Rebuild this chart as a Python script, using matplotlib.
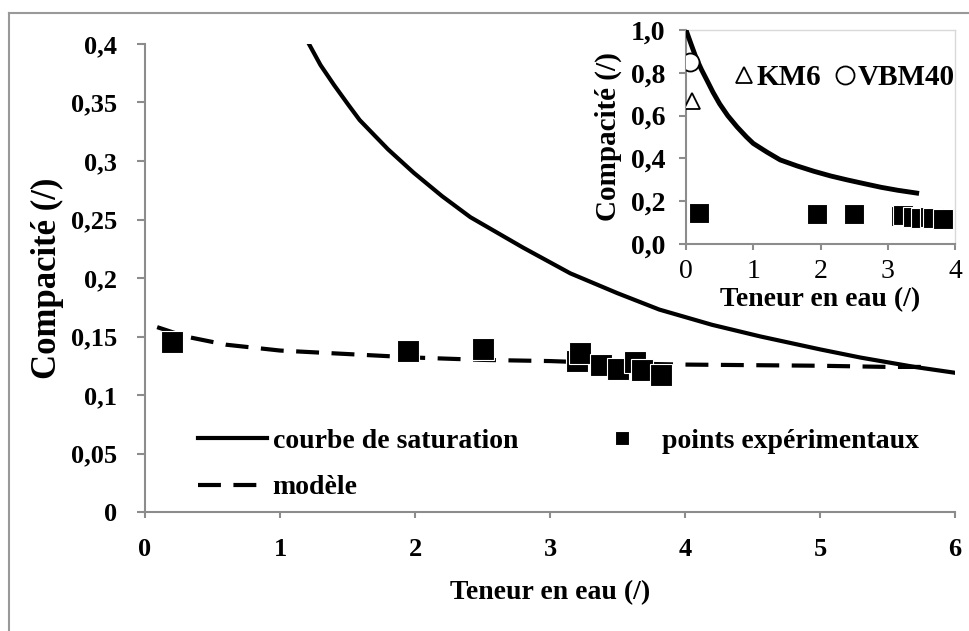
import numpy as np
import matplotlib
matplotlib.use("Agg")
import matplotlib.pyplot as plt
from matplotlib.lines import Line2D
from matplotlib.ticker import FuncFormatter

plt.rcParams['font.family'] = ['Liberation Serif', 'DejaVu Serif']

# experimental points (teneur en eau, compacite)
w_exp = [0.2, 1.95, 2.5, 3.2, 3.22, 3.38, 3.5, 3.63, 3.68, 3.82]
c_exp = [0.145, 0.138, 0.139, 0.129, 0.136, 0.126, 0.122, 0.128, 0.121, 0.117]

# saturation curve, main chart
w_sat = [1.21, 1.3, 1.4, 1.5, 1.59, 1.8, 1.99, 2.2, 2.41, 2.8, 3.15, 3.5, 3.81, 4.2,
         4.56, 5.0, 5.3, 5.7, 6.0]
c_sat = [0.401, 0.382, 0.365, 0.349, 0.335, 0.310, 0.290, 0.270, 0.252, 0.226, 0.204,
         0.187, 0.173, 0.160, 0.150, 0.139, 0.132, 0.124, 0.119]

# model curve
w_mod = [0.09, 0.3, 0.6, 1.0, 1.5, 2.0, 2.5, 3.0, 3.5, 4.0, 4.5, 5.0, 5.5, 5.8]
c_mod = [0.158, 0.150, 0.143, 0.138, 0.135, 0.132, 0.130, 0.129, 0.127, 0.126,
         0.1255, 0.125, 0.124, 0.124]

# inset: saturation curve and reference materials
w_sat_in = [0.0, 0.08, 0.15, 0.23, 0.31, 0.4, 0.5, 0.62, 0.76, 0.9, 1.0, 1.2, 1.4, 1.65,
            1.9, 2.15, 2.39, 2.65, 2.9, 3.15, 3.43]
c_sat_in = [1.0, 0.93, 0.87, 0.815, 0.766, 0.71, 0.655, 0.60, 0.547, 0.50, 0.47, 0.43,
            0.393, 0.365, 0.34, 0.318, 0.30, 0.282, 0.265, 0.251, 0.238]
w_km6, c_km6 = [0.09], [0.67]
w_vbm, c_vbm = [0.06], [0.85]

grey = '#8c8c8c'
fs_tick = 19
fs_lab = 20

fig = plt.figure(figsize=(9.69, 6.31), dpi=100)

# outer frame (left and top edges visible)
fig.add_artist(Line2D([9/969, 9/969], [0, 1 - 13/631], transform=fig.transFigure,
                      color='#999999', lw=1.5))
fig.add_artist(Line2D([9/969, 1], [1 - 13/631, 1 - 13/631], transform=fig.transFigure,
                      color='#999999', lw=1.5))

ax = fig.add_axes([145/969, 1 - 512/631, 810/969, 468/631])
ax.plot(w_sat, c_sat, color='black', lw=3, label='courbe de saturation', zorder=3)
ax.plot(w_mod, c_mod, color='black', lw=3, linestyle=(0, (5.5, 3)), label='modèle', zorder=2)
ax.plot(w_exp, c_exp, linestyle='none', marker='s', markersize=16, color='black',
        markeredgecolor='white', markeredgewidth=0.8, label='points expérimentaux', zorder=4)

ax.set_xlim(0, 6)
ax.set_ylim(0, 0.4)
ax.set_xticks(np.arange(0, 7, 1))
ax.set_yticks(np.arange(0, 0.41, 0.05))
fmt = FuncFormatter(lambda v, p: ('%g' % round(v, 3)).replace('.', ','))
ax.yaxis.set_major_formatter(fmt)
for s in ['top', 'right']:
    ax.spines[s].set_visible(False)
for s in ['left', 'bottom']:
    ax.spines[s].set_color(grey)
    ax.spines[s].set_linewidth(1.5)
ax.tick_params(axis='y', direction='out', length=6, width=1.5, color=grey, pad=14,
               labelsize=fs_tick)
ax.tick_params(axis='x', direction='out', length=4.5, width=1.5, color=grey, pad=14,
               labelsize=fs_tick)
for t in ax.get_xticklabels() + ax.get_yticklabels():
    t.set_fontweight('bold')
ax.set_xlabel('Teneur en eau (/)', fontsize=fs_lab, fontweight='bold', labelpad=14)
ax.set_ylabel('Compacité (/)', fontsize=25, fontweight='bold', labelpad=5)

handles, labels = ax.get_legend_handles_labels()
leg = ax.legend(handles, labels, ncol=2, frameon=False, loc='upper left',
                bbox_to_anchor=(0.058, 0.19), prop={'size': fs_lab, 'weight': 'bold'},
                handlelength=2.5, handletextpad=0.2, columnspacing=2.5,
                markerscale=0.6, labelspacing=0.75, borderaxespad=0, borderpad=0.2)

# inset
axi = fig.add_axes([686/969, 1 - 244/631, 269/969, 214/631])
axi.plot(w_sat_in, c_sat_in, color='black', lw=3.5, zorder=3)
axi.plot(w_exp, c_exp, linestyle='none', marker='s', markersize=15, color='black',
         markeredgecolor='white', markeredgewidth=0.8, zorder=4)
axi.plot(w_km6, c_km6, linestyle='none', marker='^', markersize=12, markerfacecolor='white',
         markeredgecolor='black', markeredgewidth=1.3, label='KM6', zorder=5)
axi.plot(w_vbm, c_vbm, linestyle='none', marker='o', markersize=13, markerfacecolor='white',
         markeredgecolor='black', markeredgewidth=1.3, label='VBM40', zorder=5)
axi.set_xlim(0, 4)
axi.set_ylim(0, 1.0)
axi.set_xticks(np.arange(0, 5, 1))
axi.set_yticks(np.arange(0, 1.01, 0.2))
axi.yaxis.set_major_formatter(FuncFormatter(lambda v, p: ('%.1f' % v).replace('.', ',')))
for s in ['top', 'right']:
    axi.spines[s].set_color('#d9d9d9')
    axi.spines[s].set_linewidth(1)
for s in ['left', 'bottom']:
    axi.spines[s].set_color(grey)
    axi.spines[s].set_linewidth(1.5)
axi.tick_params(axis='y', direction='out', length=5, width=1.5, color=grey, pad=10,
                labelsize=fs_lab)
axi.tick_params(axis='x', direction='out', length=4, width=1.5, color=grey, pad=7,
                labelsize=fs_lab)
for t in axi.get_yticklabels():
    t.set_fontweight('bold')
axi.set_xlabel('Teneur en eau (/)', fontsize=fs_lab, fontweight='bold', labelpad=2)
axi.set_ylabel('Compacité (/)', fontsize=21, fontweight='bold', labelpad=6)
axi.legend(ncol=2, frameon=False, loc='upper right', bbox_to_anchor=(1.0, 0.84),
           prop={'size': 21, 'weight': 'bold'}, handlelength=0.8, handletextpad=0.05,
           columnspacing=0.4, borderaxespad=0, borderpad=0)

fig.savefig('out.png', dpi=100)
